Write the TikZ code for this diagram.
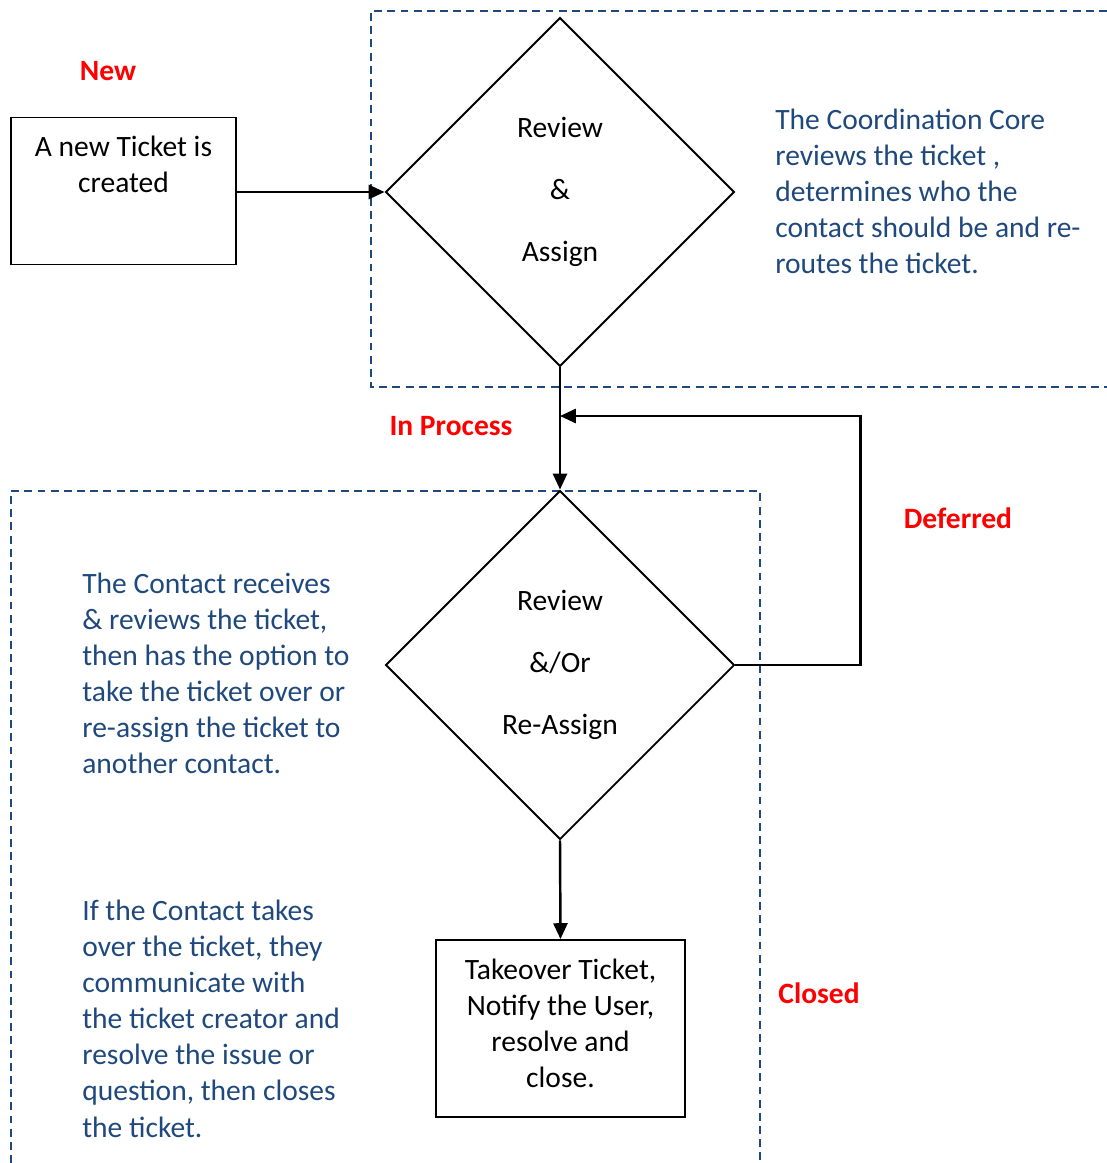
\documentclass[tikz,border=0pt]{standalone}
\usepackage{fontspec}
\setmainfont{Carlito}
\usepackage{tikz}
\usetikzlibrary{arrows.meta, shapes.geometric, calc}
\definecolor{ccblue}{RGB}{31,73,125}

\begin{document}
\begin{tikzpicture}[x=0.2mm, y=-0.2mm,
  every node/.style={font=\fontsize{16.8}{20.5}\selectfont},
  flow/.style={-{Triangle[length=9pt, width=8pt]}, line width=1.4pt},
  zone/.style={ccblue, line width=0.9pt, dash pattern=on 4.5pt off 3pt},
  tbox/.style={draw, line width=1.1pt, rectangle, inner sep=0pt},
  decide/.style={draw, line width=1.1pt, diamond, aspect=1, inner sep=0pt, minimum width=69.8mm, minimum height=69.8mm, align=center},
  status/.style={red, font=\fontsize{16.8}{20.5}\selectfont\bfseries},
  note/.style={ccblue, align=left, anchor=north west, inner sep=0pt}]
\useasboundingbox (0,0) rectangle (1107,1163);
% dashed zones
\draw[zone] (1107,11) -- (371,11) -- (371,387) -- (1107,387);
\draw[zone] (11,1163) -- (11,491) -- (760,491) -- (760,1163);
% status labels
\path
(108,71) node[status]{New};
\path
(451,426) node[status]{In Process};
\path
(958,518) node[status]{Deferred};
\path
(819,993) node[status]{Closed};
% shapes
\node[tbox, minimum width=45mm, minimum height=29.4mm] (newtkt) at (123.5,191) {};
\node[align=center, anchor=north] (newtxt) at (123.5,130) {A new Ticket is\\created};
\node[decide] (rev1) at (560,192) {Review\\[14.8pt]\&\\[14.8pt]Assign};
\node[decide] (rev2) at (560,665) {Review\\[14.8pt]\&/Or\\[14.8pt]Re-Assign};
\node[tbox, minimum width=49.8mm, minimum height=35.4mm] (close) at (560.5,1028.5) {};
\node[align=center] (closetxt) at (560.5,1023) {Takeover Ticket,\\Notify the User,\\resolve and\\close.};
\coordinate (loopin) at (560,416);
% notes
\node[note] (corenote) at (775,109) {The Coordination Core\\reviews the ticket ,\\determines who the\\contact should be and re-\\routes the ticket.};
\node[note] (contnote) at (82,573) {The Contact receives\\\& reviews the ticket,\\then has the option to\\take the ticket over or\\re-assign the ticket to\\another contact.};
\node[note] (takenote) at (82,900) {If the Contact takes\\over the ticket, they\\communicate with\\the ticket creator and\\resolve the issue or\\question, then closes\\the ticket.};
% connectors
\draw[flow] (newtkt.east |- rev1.west) -- (rev1.west);
\draw[flow] (rev1.south) -- (rev2.north);
\draw[flow] (rev2.east) -- ++(125,0) |- (loopin);
\draw[flow] (rev2.south) -- (close.north);
\end{tikzpicture}
\end{document}
